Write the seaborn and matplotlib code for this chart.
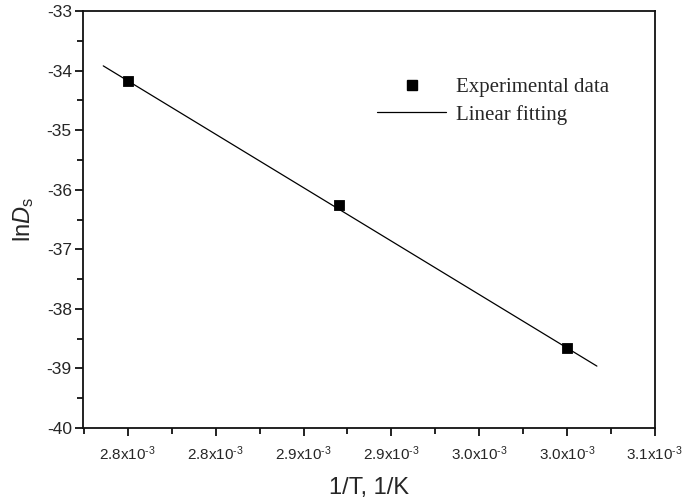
import numpy as np
import pandas as pd
import seaborn as sns
import matplotlib
matplotlib.use('Agg')
import matplotlib.pyplot as plt
from matplotlib.ticker import MultipleLocator, FixedLocator, FixedFormatter
from matplotlib.lines import Line2D

# experimental points
inv_t = [2.750e-3, 2.870e-3, 3.000e-3]
ln_ds = [-34.17, -36.26, -38.66]

# linear fitting line endpoints
fit_x = [2.736e-3, 3.017e-3]
fit_y = [-33.92, -38.96]

xticks = [2.75e-3, 2.80e-3, 2.85e-3, 2.90e-3, 2.95e-3, 3.00e-3, 3.05e-3]
xtick_labels = ['2.8', '2.8', '2.9', '2.9', '3.0', '3.0', '3.1']

pts = pd.DataFrame({'x': inv_t, 'y': ln_ds})
fit = pd.DataFrame({'x': fit_x, 'y': fit_y})

sns.set_style('ticks')
plt.rcParams['font.family'] = ['Liberation Sans', 'DejaVu Sans']
plt.rcParams['mathtext.fontset'] = 'custom'
plt.rcParams['mathtext.rm'] = 'Liberation Sans'
plt.rcParams['mathtext.it'] = 'Liberation Sans:italic'
plt.rcParams['axes.unicode_minus'] = False

fig = plt.figure(figsize=(6.85, 5.03), dpi=100)
ax = fig.add_axes([0.121, 0.149, 0.835, 0.829])

sns.lineplot(data=fit, x='x', y='y', color='black', linewidth=0.9, ax=ax)
sns.scatterplot(data=pts, x='x', y='y', marker='s', s=55, color='black',
                edgecolor='black', ax=ax, zorder=3)

ax.set_xlim(2.7244e-3, 3.05e-3)
ax.set_ylim(-40, -33)
ax.xaxis.set_major_locator(FixedLocator(xticks))
ax.xaxis.set_major_formatter(FixedFormatter([l + 'x10$^{\u20103}$' for l in xtick_labels]))
ax.xaxis.set_minor_locator(MultipleLocator(0.025e-3))
ax.yaxis.set_major_locator(MultipleLocator(1))
ax.yaxis.set_minor_locator(MultipleLocator(0.5))

for s in ax.spines.values():
    s.set_linewidth(1.3)
    s.set_color('#111111')
ax.tick_params(which='major', length=6, width=1.3, color='#111111')
ax.tick_params(which='minor', length=4, width=1.3, color='#111111')
ax.tick_params(axis='y', labelsize=12.5, pad=2)
ax.tick_params(axis='x', labelsize=11, pad=6)

ax.set_xlabel('1/T, 1/K', fontsize=17, labelpad=10)
ax.set_ylabel(r'ln$\mathit{D}_\mathrm{s}$', fontsize=17, labelpad=8)

handles = [Line2D([], [], marker='s', color='black', linestyle='none', markersize=7),
           Line2D([], [], color='black', linewidth=0.9)]
ax.legend(handles, ['Experimental data', 'Linear fitting'], frameon=False,
          loc='upper left', bbox_to_anchor=(0.482, 0.885), handlelength=3.3,
          prop={'family': 'Liberation Serif', 'size': 15}, labelspacing=0.35,
          handletextpad=0.5)

plt.savefig('out.png', dpi=100)
